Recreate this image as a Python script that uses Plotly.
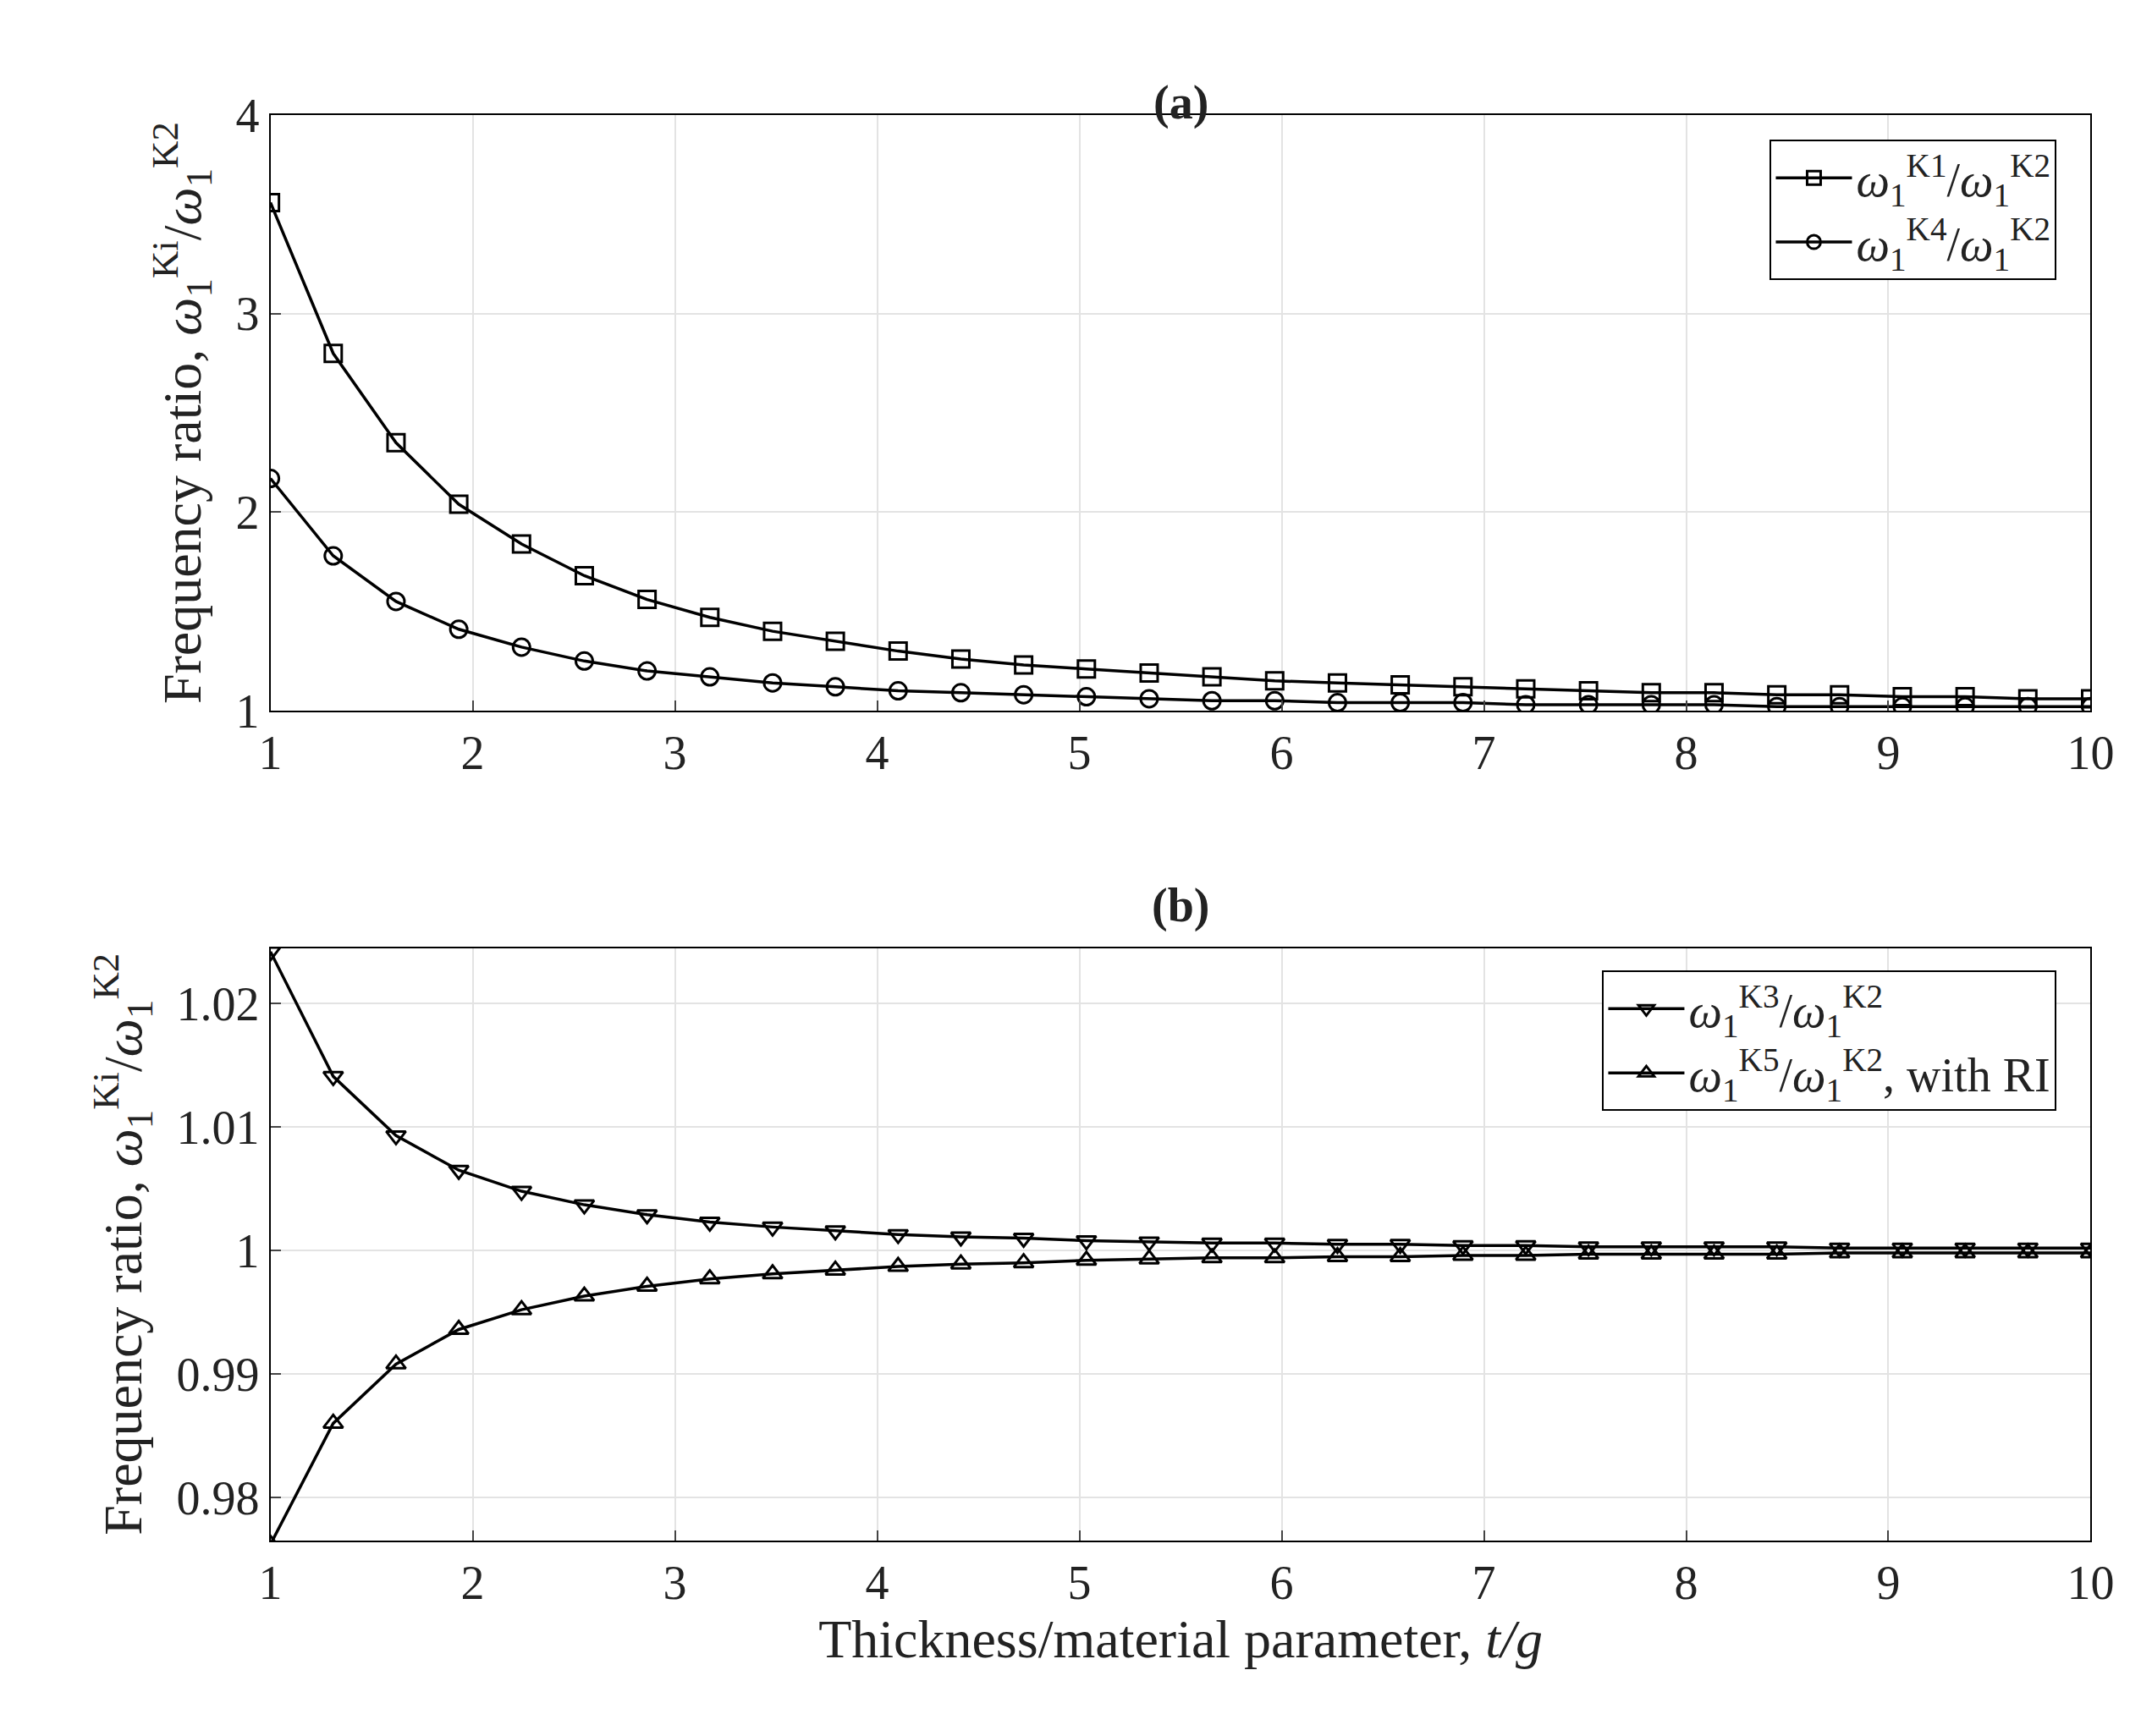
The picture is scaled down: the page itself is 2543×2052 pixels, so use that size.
import plotly.graph_objects as go

x = [1 + i * 9 / 29 for i in range(30)]
k1 = [3.56, 2.80, 2.35, 2.04, 1.84, 1.68, 1.56, 1.47, 1.40, 1.35, 1.30, 1.26, 1.23, 1.21, 1.19,
      1.17, 1.15, 1.14, 1.13, 1.12, 1.11, 1.10, 1.09, 1.09, 1.08, 1.08, 1.07, 1.07, 1.06, 1.06]
k4 = [2.17, 1.78, 1.55, 1.41, 1.32, 1.25, 1.20, 1.17, 1.14, 1.12, 1.10, 1.09, 1.08, 1.07, 1.06,
      1.05, 1.05, 1.04, 1.04, 1.04, 1.03, 1.03, 1.03, 1.03, 1.02, 1.02, 1.02, 1.02, 1.02, 1.02]
k3 = [1.0242, 1.0141, 1.0093, 1.0065, 1.0048, 1.0037, 1.0029, 1.0023, 1.0019, 1.0016, 1.0013,
      1.0011, 1.0010, 1.0008, 1.0007, 1.0006, 1.0006, 1.0005, 1.0005, 1.0004, 1.0004, 1.0003,
      1.0003, 1.0003, 1.0003, 1.0002, 1.0002, 1.0002, 1.0002, 1.0002]
k5 = [0.9762, 0.9860, 0.9908, 0.9936, 0.9952, 0.9963, 0.9971, 0.9977, 0.9981, 0.9984, 0.9987,
      0.9989, 0.9990, 0.9992, 0.9993, 0.9994, 0.9994, 0.9995, 0.9995, 0.9996, 0.9996, 0.9997,
      0.9997, 0.9997, 0.9997, 0.9998, 0.9998, 0.9998, 0.9998, 0.9998]

def lab(k, extra=""):
    return f"<i>ω</i><sub>1</sub><sup>{k}</sup>/<i>ω</i><sub>1</sub><sup>K2</sup>{extra}"

fig = go.Figure()
common = dict(mode="lines+markers", line=dict(color="black", width=3.5))
mk = lambda s: dict(symbol=s, size=20, color="black", line=dict(color="black", width=3))
fig.add_trace(go.Scatter(x=x, y=k1, name=lab("K1"), marker=mk("square-open"), xaxis="x", yaxis="y", legend="legend", **common))
fig.add_trace(go.Scatter(x=x, y=k4, name=lab("K4"), marker=mk("circle-open"), xaxis="x", yaxis="y", legend="legend", **common))
fig.add_trace(go.Scatter(x=x, y=k3, name=lab("K3"), marker=mk("triangle-down-open"), xaxis="x2", yaxis="y2", legend="legend2", **common))
fig.add_trace(go.Scatter(x=x, y=k5, name=lab("K5", ", with RI"), marker=mk("triangle-up-open"), xaxis="x2", yaxis="y2", legend="legend2", **common))

F = "Liberation Serif"
ax = dict(showline=True, mirror=True, linecolor="black", linewidth=2, ticks="inside", ticklen=12,
          tickwidth=2, showgrid=True, gridcolor="#e3e3e3", gridwidth=2, zeroline=False,
          tickfont=dict(family=F, size=56, color="#222"))
ytitle = "Frequency ratio, <i>ω</i><sub>1</sub><sup>Ki</sup>/<i>ω</i><sub>1</sub><sup>K2</sup>"
fig.update_layout(
    width=2543, height=2052, plot_bgcolor="white", paper_bgcolor="white",
    margin=dict(l=0, r=0, t=0, b=0), font=dict(family=F, size=56, color="#222"),
    xaxis=dict(domain=[0.119, 0.979], range=[1, 10], dtick=1, anchor="y", **ax),
    yaxis=dict(domain=[0.597, 0.9506], range=[1, 4], dtick=1, anchor="x",
               title=dict(text=ytitle, font=dict(size=64), standoff=20), **ax),
    xaxis2=dict(domain=[0.119, 0.979], range=[1, 10], dtick=1, anchor="y2",
                title=dict(text="Thickness/material parameter, <i>t/g</i>", font=dict(size=64), standoff=10), **ax),
    yaxis2=dict(domain=[0.104, 0.456], range=[0.9765, 1.0245], tickvals=[0.98, 0.99, 1, 1.01, 1.02],
                ticktext=["0.98", "0.99", "1", "1.01", "1.02"], anchor="x2",
                title=dict(text=ytitle, font=dict(size=64), standoff=20), **ax),
    legend=dict(x=0.963, y=0.936, xanchor="right", yanchor="top", bgcolor="white",
                bordercolor="black", borderwidth=2, font=dict(size=56), itemwidth=90),
    legend2=dict(x=0.963, y=0.4425, xanchor="right", yanchor="top", bgcolor="white",
                 bordercolor="black", borderwidth=2, font=dict(size=56), itemwidth=90),
    annotations=[
        dict(text="<b>(a)</b>", x=0.549, y=0.975, xref="paper", yref="paper", showarrow=False, font=dict(size=56)),
        dict(text="<b>(b)</b>", x=0.549, y=0.481, xref="paper", yref="paper", showarrow=False, font=dict(size=56)),
    ],
)
fig.write_html("out.html")
